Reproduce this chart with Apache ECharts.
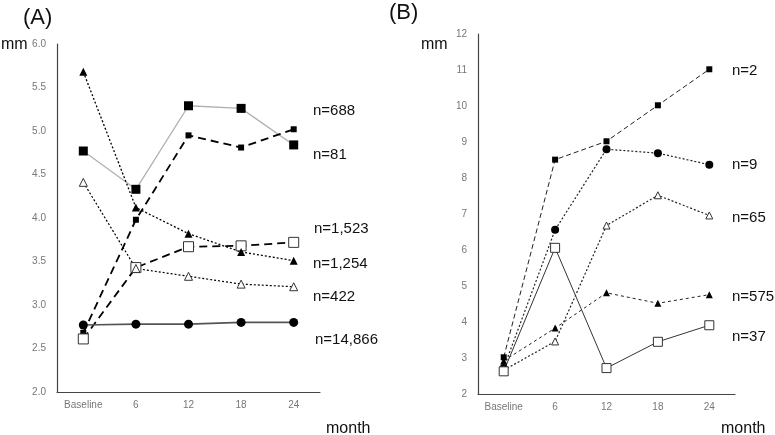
<!DOCTYPE html>
<html><head><meta charset="utf-8">
<script src="https://cdn.jsdelivr.net/npm/echarts@6/dist/echarts.min.js"></script>
<style>html,body{margin:0;padding:0;background:#fff}#c{width:775px;height:435px}</style>
</head><body><div id="c"></div>
<script>
const categories = ['Baseline', '6', '12', '18', '24'];
// Panel A
const a688 = [4.77, 4.33, 5.29, 5.26, 4.84];
const a81 = [2.68, 3.98, 4.95, 4.81, 5.02];
const a1523 = [2.61, 3.43, 3.67, 3.68, 3.72];
const a1254 = [5.68, 4.12, 3.82, 3.61, 3.51];
const a422 = [4.41, 3.42, 3.33, 3.24, 3.21];
const a14866 = [2.77, 2.78, 2.78, 2.80, 2.80];
const labelsA = ['n=688', 'n=81', 'n=1,523', 'n=1,254', 'n=422', 'n=14,866'];
// Panel B
const b2 = [3.02, 8.51, 9.02, 10.02, 11.02];
const b9 = [2.72, 6.56, 8.80, 8.69, 8.37];
const b65 = [2.66, 3.46, 6.68, 7.52, 6.96];
const b575 = [2.92, 3.83, 4.81, 4.52, 4.76];
const b37 = [2.63, 6.06, 2.72, 3.45, 3.91];
const labelsB = ['n=2', 'n=9', 'n=65', 'n=575', 'n=37'];

const chart = echarts.init(document.getElementById('c'), null, {renderer: 'canvas'});
const axisLabelStyle = {color: '#777', fontSize: 10, fontFamily: 'Liberation Sans'};
function xAx(gi) {
  return {type: 'category', gridIndex: gi, data: categories, boundaryGap: true,
    axisLine: {lineStyle: {color: '#444', width: 1.2}}, axisTick: {show: false},
    axisLabel: Object.assign({margin: 8}, axisLabelStyle)};
}
function yAx(gi, min, max, interval, dec) {
  return {type: 'value', gridIndex: gi, min, max, interval,
    axisLine: {show: true, lineStyle: {color: '#444', width: 1.2}}, axisTick: {show: false},
    splitLine: {show: false},
    axisLabel: Object.assign({margin: 11, formatter: v => v.toFixed(dec)}, axisLabelStyle)};
}
function ser(gi, data, sym, size, color, lw, type, fill, borderCol) {
  return {type: 'line', xAxisIndex: gi, yAxisIndex: gi, data, symbol: sym, symbolSize: size,
    showAllSymbol: true, animation: false,
    lineStyle: {color, width: lw, type},
    itemStyle: {color: fill, borderColor: borderCol || '#000', borderWidth: fill === '#fff' ? 1 : 0}};
}
const labelText = (t, x, y) => ({type: 'text', left: x, top: y,
  style: {text: t, fill: '#111', font: '15px "Liberation Sans"'}});
const graphics = [
  {type: 'text', left: 23, top: 7, style: {text: '(A)', fill: '#111', font: '22px "Liberation Sans"'}},
  {type: 'text', left: 389, top: 2, style: {text: '(B)', fill: '#111', font: '22px "Liberation Sans"'}},
  {type: 'text', left: 1, top: 37, style: {text: 'mm', fill: '#111', font: '16px "Liberation Sans"'}},
  {type: 'text', left: 421, top: 37, style: {text: 'mm', fill: '#111', font: '16px "Liberation Sans"'}},
  {type: 'text', left: 326, top: 421, style: {text: 'month', fill: '#111', font: '16px "Liberation Sans"'}},
  {type: 'text', left: 721, top: 421, style: {text: 'month', fill: '#111', font: '16px "Liberation Sans"'}}
];
const posA = [[313, 103], [313, 147], [314, 221], [313, 256], [313, 289], [315, 332]];
labelsA.forEach((t, i) => graphics.push(labelText(t, posA[i][0], posA[i][1])));
const posB = [[732, 63], [732, 157], [732, 210], [732, 289], [732, 329]];
labelsB.forEach((t, i) => graphics.push(labelText(t, posB[i][0], posB[i][1])));

const tri = 'triangle';
chart.setOption({
  animation: false,
  grid: [
    {left: 57, top: 44, width: 263, height: 348},
    {left: 478, top: 34, width: 257, height: 360}
  ],
  xAxis: [xAx(0), xAx(1)],
  yAxis: [yAx(0, 2, 6, 0.5, 1), yAx(1, 2, 12, 1, 0)],
  graphic: graphics,
  series: [
    ser(0, a688, 'rect', 9, '#b0b0b0', 1.3, 'solid', '#000'),
    ser(0, a81, 'rect', 6, '#000', 1.8, [8, 5], '#000'),
    ser(0, a1523, 'rect', 10, '#000', 1.8, [8, 5], '#fff', '#333'),
    ser(0, a1254, tri, 8, '#000', 1.3, [2, 2], '#000'),
    ser(0, a422, tri, 8, '#000', 1.2, [2, 2], '#fff', '#333'),
    ser(0, a14866, 'circle', 9, '#555', 1.6, 'solid', '#000'),
    ser(1, b2, 'rect', 6, '#222', 1, [5, 3], '#000'),
    ser(1, b9, 'circle', 8, '#222', 1.2, [2, 2], '#000'),
    ser(1, b65, tri, 7, '#222', 1.2, [2, 2], '#fff', '#333'),
    ser(1, b575, tri, 7, '#222', 1, [3, 3], '#000'),
    ser(1, b37, 'rect', 9, '#333', 1, 'solid', '#fff', '#333')
  ]
});
</script></body></html>
